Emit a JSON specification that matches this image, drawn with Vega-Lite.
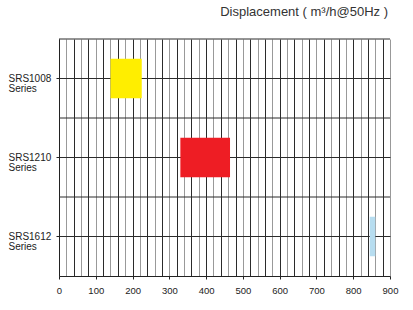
{
  "$schema": "https://vega.github.io/schema/vega-lite/v6.json",
  "width": 331,
  "height": 237,
  "autosize": "none",
  "padding": {"left": 59, "top": 39, "right": 23, "bottom": 34},
  "background": "white",
  "config": {
    "font": "Liberation Sans",
    "view": {"stroke": null}
  },
  "title": {
    "text": "Displacement ( m³/h@50Hz )",
    "anchor": "end",
    "frame": "group",
    "orient": "top",
    "baseline": "alphabetic",
    "offset": 10,
    "dx": -2,
    "fontSize": 13,
    "fontWeight": "normal",
    "color": "#333333",
    "font": "Liberation Sans"
  },
  "data": {
    "values": [
      {"series": "SRS1008 Series", "low": 140, "high": 225, "color": "#FFEE00"},
      {"series": "SRS1210 Series", "low": 330, "high": 465, "color": "#EE1D24"},
      {"series": "SRS1612 Series", "low": 845, "high": 860, "color": "#B7DDF0"}
    ]
  },
  "layer": [
    {
      "mark": {"type": "rule", "color": "#2b2b2b", "strokeWidth": 1},
      "encoding": {
        "y": {"field": "series", "type": "nominal", "sort": null, "bandPosition": 0}
      }
    },
    {
      "mark": {"type": "bar", "height": {"band": 0.5}},
      "encoding": {
        "y": {
          "field": "series",
          "type": "nominal",
          "sort": null,
          "title": null,
          "scale": {"paddingInner": 0, "paddingOuter": 0},
          "axis": {
            "labelExpr": "split(datum.label, ' ')",
            "labelAlign": "left",
            "labelBaseline": "middle",
            "labelPadding": 48,
            "labelFontSize": 10,
            "labelLineHeight": 10,
            "labelColor": "#222222",
            "tickSize": 3,
            "tickColor": "#222222",
            "domainColor": "#222222",
            "grid": true,
            "gridColor": "#2b2b2b",
            "gridWidth": 1
          }
        },
        "x": {
          "field": "low",
          "type": "quantitative",
          "title": null,
          "scale": {"domain": [0, 900], "nice": false, "zero": false},
          "axis": {
            "values": [0, 20, 40, 60, 80, 100, 120, 140, 160, 180, 200, 220, 240, 260, 280, 300, 320, 340, 360, 380, 400, 420, 440, 460, 480, 500, 520, 540, 560, 580, 600, 620, 640, 660, 680, 700, 720, 740, 760, 780, 800, 820, 840, 860, 880, 900],
            "labelExpr": "datum.value % 100 === 0 ? datum.label : ''",
            "labelOverlap": false,
            "labelFlush": false,
            "labelFontSize": 9.5,
            "labelColor": "#222222",
            "labelPadding": 6,
            "tickSize": 3,
            "tickColor": "#222222",
            "tickOpacity": {"condition": {"test": "datum.value % 100 === 0", "value": 1}, "value": 0},
            "domainColor": "#222222",
            "grid": true,
            "gridWidth": 1,
            "gridOpacity": 1,
            "gridColor": {"condition": {"test": "datum.value % 40 === 0", "value": "#2b2b2b"}, "value": "#999999"}
          }
        },
        "x2": {"field": "high"},
        "color": {"field": "color", "type": "nominal", "scale": null, "legend": null}
      }
    }
  ]
}
